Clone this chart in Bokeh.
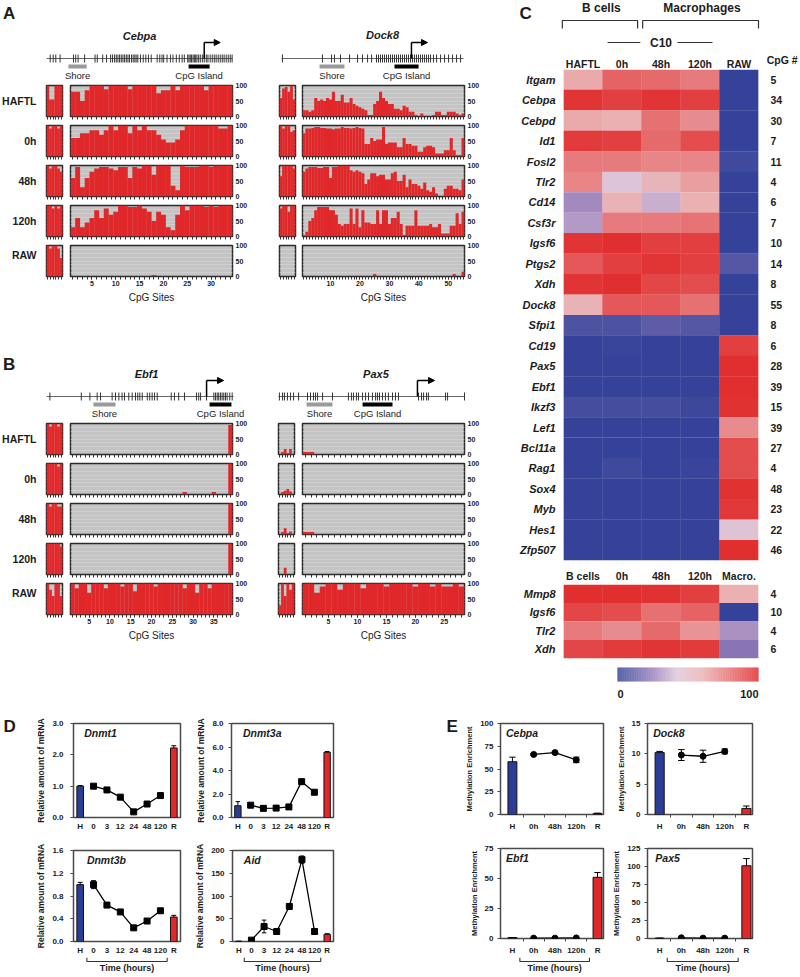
import numpy as np
from bokeh.plotting import figure
from bokeh.layouts import row, column
from bokeh.models import (Range1d, FixedTicker, LinearAxis, Spacer, LinearColorMapper,
                          Grid, Arrow, NormalHead, ColumnDataSource, NumeralTickFormatter)
from bokeh.core.properties import value
from bokeh.transform import transform
from bokeh.embed import file_html
from bokeh.resources import INLINE

FONT = "Liberation Sans"
RED = "#E0282A"
BLUE = "#2C3D96"
GRAY_BG = "#C4C4C4"
INK = "#1c1c1c"

# ---------------- Panel A / B : bisulfite methylation (% per CpG) ----------------
CONDITIONS = ["HAFTL", "0h", "48h", "120h", "RAW"]

CEBPA_SHORE = [
    [100, 55, 55, 100, 100, 100],
    [100, 90, 100, 100, 90, 100],
    [100, 90, 100, 100, 90, 80],
    [100, 100, 90, 100, 90, 100],
    [100, 90, 100, 100, 90, 60],
]
CEBPA_SITES = [
    [80, 80, 50, 85, 100, 100, 100, 88, 100, 100, 100, 100, 88, 100, 100, 100, 100, 100, 75, 85,
     85, 100, 85, 100, 100, 100, 100, 100, 85, 100, 100, 100, 100, 100],
    [60, 60, 75, 75, 85, 85, 70, 85, 100, 85, 100, 100, 75, 100, 85, 100, 85, 85, 70, 55,
     45, 45, 55, 85, 100, 100, 100, 100, 100, 100, 100, 90, 90, 100],
    [60, 95, 30, 60, 80, 90, 95, 95, 90, 85, 95, 95, 60, 95, 90, 100, 100, 70, 100, 100,
     100, 35, 20, 100, 95, 95, 95, 100, 100, 95, 100, 100, 100, 100],
    [30, 60, 30, 45, 60, 85, 60, 90, 70, 80, 100, 100, 95, 95, 100, 90, 80, 50, 80, 70,
     30, 20, 70, 100, 85, 100, 100, 100, 95, 100, 95, 100, 100, 100],
    [0, 0, 0, 0, 0, 0, 0, 0, 0, 0, 0, 0, 0, 0, 0, 0, 0, 5, 0, 0,
     0, 0, 0, 0, 0, 0, 0, 0, 0, 0, 0, 0, 0, 0],
]
CEBPA_TICKS = [5, 10, 15, 20, 25, 30]

DOCK8_SHORE = [
    [60, 90, 95, 80, 100, 55],
    [100, 90, 100, 100, 80, 85],
    [65, 100, 100, 100, 100, 90],
    [90, 100, 100, 80, 100, 100],
    [0, 0, 0, 0, 0, 0],
]
DOCK8_SITES = [
    [20, 20, 15, 20, 60, 50, 55, 50, 60, 55, 80, 50, 50, 70, 45, 45, 60, 40, 35, 30,
     25, 20, 5, 5, 40, 50, 80, 60, 50, 40, 40, 25, 25, 20, 35, 30, 15, 15, 5, 0,
     10, 0, 0, 0, 5, 15, 15, 5, 5, 15, 15, 15, 10, 5, 10],
    [75, 90, 90, 92, 95, 95, 92, 92, 90, 90, 88, 90, 90, 95, 92, 92, 90, 92, 95, 92,
     90, 40, 40, 60, 50, 55, 55, 95, 40, 45, 45, 45, 30, 30, 60, 40, 40, 35, 35, 15,
     15, 30, 35, 35, 30, 10, 10, 10, 20, 20, 60, 20, 5, 5, 60],
    [80, 90, 95, 95, 95, 92, 92, 95, 95, 60, 95, 95, 100, 100, 100, 100, 85, 80, 85, 80,
     75, 40, 55, 75, 75, 65, 70, 70, 55, 55, 75, 80, 50, 50, 70, 30, 55, 40, 40, 35,
     25, 45, 20, 15, 30, 10, 0, 0, 25, 35, 35, 25, 25, 20, 55],
    [5, 15, 50, 60, 85, 95, 95, 95, 95, 85, 85, 70, 40, 35, 40, 40, 90, 40, 90, 30,
     85, 45, 45, 40, 40, 85, 40, 85, 85, 40, 60, 60, 80, 40, 5, 35, 35, 35, 85, 35,
     35, 35, 35, 40, 30, 30, 40, 10, 10, 10, 35, 35, 75, 40, 80],
    [0, 0, 0, 0, 0, 0, 0, 0, 0, 0, 0, 0, 0, 0, 0, 0, 0, 0, 0, 0,
     0, 0, 0, 0, 8, 0, 0, 0, 0, 0, 0, 0, 0, 0, 0, 0, 0, 0, 0, 0,
     0, 0, 0, 0, 0, 0, 0, 0, 0, 0, 0, 8, 0, 0, 15],
]
DOCK8_TICKS = [10, 20, 30, 40, 50]

EBF1_SHORE = [
    [100, 90, 100, 100, 90, 100],
    [100, 100, 100, 100, 90, 100],
    [100, 90, 100, 100, 90, 90],
    [100, 100, 100, 100, 100, 90],
    [100, 80, 60, 100, 100, 60],
]
EBF1_SITES = [
    [0, 0, 0, 0, 0, 0, 0, 0, 0, 0, 0, 0, 0, 0, 0, 0, 0, 0, 0, 0,
     0, 0, 0, 0, 0, 0, 0, 0, 0, 0, 0, 0, 0, 0, 0, 0, 0, 0, 95],
    [0, 0, 0, 0, 0, 0, 0, 0, 0, 0, 0, 0, 0, 0, 0, 0, 0, 0, 0, 0,
     0, 0, 0, 0, 0, 0, 0, 8, 0, 0, 0, 0, 0, 0, 8, 0, 0, 0, 100],
    [0, 0, 0, 0, 0, 0, 0, 0, 0, 0, 0, 0, 0, 0, 0, 0, 0, 0, 0, 0,
     0, 0, 0, 0, 0, 0, 0, 0, 0, 0, 0, 0, 0, 0, 0, 0, 0, 0, 100],
    [0, 0, 0, 0, 0, 0, 0, 0, 0, 0, 0, 0, 0, 0, 0, 0, 0, 0, 0, 0,
     0, 0, 0, 0, 0, 0, 0, 0, 0, 0, 0, 0, 0, 0, 0, 0, 0, 0, 100],
    [100, 85, 100, 100, 70, 100, 100, 100, 85, 100, 100, 100, 90, 100, 100, 75, 100, 100, 100, 100,
     90, 100, 100, 100, 100, 100, 100, 85, 100, 100, 70, 100, 100, 85, 100, 100, 100, 100, 100],
]
EBF1_TICKS = [5, 10, 15, 20, 25, 30, 35]

PAX5_SHORE = [
    [0, 8, 18, 5, 18, 0],
    [0, 8, 12, 18, 10, 0],
    [0, 8, 20, 5, 10, 0],
    [0, 0, 22, 0, 0, 0],
    [30, 100, 60, 100, 80, 100],
]
PAX5_SITES = [
    [8, 8, 0, 0, 0, 0, 0, 0, 0, 0, 0, 0, 0, 0, 0, 0, 0, 0, 0, 0, 0, 0, 0, 0, 0, 0, 0, 0],
    [0, 0, 0, 0, 0, 0, 0, 0, 0, 0, 0, 0, 0, 0, 0, 0, 0, 0, 0, 0, 0, 0, 0, 0, 0, 0, 0, 0],
    [8, 8, 0, 0, 0, 0, 0, 0, 0, 0, 0, 0, 0, 0, 0, 0, 0, 0, 0, 0, 0, 0, 0, 0, 0, 0, 0, 0],
    [0, 0, 0, 0, 0, 0, 0, 0, 0, 0, 0, 0, 0, 0, 0, 0, 0, 0, 0, 0, 0, 0, 0, 0, 0, 0, 0, 0],
    [100, 100, 70, 90, 100, 100, 80, 100, 100, 100, 85, 100, 100, 100, 90, 100, 100, 100, 100, 90,
     100, 100, 90, 100, 90, 90, 100, 90],
]
PAX5_TICKS = [5, 10, 15, 20, 25]

# gene diagrams: CpG positions on a 0..1000 relative genomic scale
CEBPA_CPG = [20, 36, 50, 73, 145, 157, 170, 205, 261, 273, 302, 323, 345, 355, 366, 375, 384, 393,
             402, 411, 420, 429, 438, 446, 457, 466, 475, 482, 491, 505, 520, 534, 548, 563, 595,
             609, 621, 630, 648, 666, 680, 698, 714, 729, 741, 759, 766, 773, 780, 788, 795, 802,
             809, 818, 827, 838, 848, 859, 868, 880, 891, 902, 912, 923, 934, 945, 955, 966, 977,
             988, 998]
CEBPA_SHORE_SPAN = [118, 216]
CEBPA_ISLAND_SPAN = [764, 877]
CEBPA_TSS = [848, 934]

DOCK8_CPG = [5, 225, 275, 291, 324, 374, 418, 445, 473, 495, 522, 533, 544, 555, 566, 577, 588,
             599, 610, 621, 632, 643, 654, 665, 676, 687, 698, 709, 720, 731, 742, 753, 764, 775,
             786, 797, 808, 819, 835, 852, 874, 896, 918, 940, 962, 984]
DOCK8_SHORE_SPAN = [209, 346]
DOCK8_ISLAND_SPAN = [621, 753]
DOCK8_TSS = [714, 802]

EBF1_CPG = [18, 186, 232, 271, 289, 351, 369, 387, 404, 417, 440, 458, 476, 488, 499, 512, 539,
            552, 565, 578, 592, 667, 684, 707, 738, 802, 814, 824, 856, 895, 904, 913, 921, 930,
            939, 948, 957, 966, 980, 993]
EBF1_SHORE_SPAN = [251, 369]
EBF1_ISLAND_SPAN = [872, 989]
EBF1_TSS = [856, 947]

PAX5_CPG = [5, 22, 32, 48, 65, 81, 108, 156, 172, 188, 199, 210, 237, 290, 376, 392, 403, 419,
            430, 452, 468, 484, 505, 522, 532, 543, 559, 575, 591, 613, 629, 645, 753, 769, 780,
            796, 806, 898, 909, 1000]
PAX5_SHORE_SPAN = [151, 290]
PAX5_ISLAND_SPAN = [452, 613]
PAX5_TSS = [747, 839]

# ---------------- Panel C : heatmaps ----------------
HM_COLUMNS = ["HAFTL", "0h", "48h", "120h", "RAW"]
HM_GENES = ["Itgam", "Cebpa", "Cebpd", "Id1", "Fosl2", "Tlr2", "Cd14", "Csf3r", "Igsf6", "Ptgs2",
            "Xdh", "Dock8", "Sfpi1", "Cd19", "Pax5", "Ebf1", "Ikzf3", "Lef1", "Bcl11a", "Rag1",
            "Sox4", "Myb", "Hes1", "Zfp507"]
HM_VALUES = [
    [62, 82, 80, 75, 2], [95, 92, 95, 92, 2], [62, 60, 78, 70, 2], [93, 92, 80, 88, 2],
    [75, 75, 72, 72, 5], [72, 42, 56, 65, 2], [28, 58, 37, 60, 2], [32, 75, 75, 77, 2],
    [95, 97, 92, 92, 2], [85, 92, 95, 92, 10], [95, 97, 90, 88, 2], [58, 85, 85, 78, 2],
    [8, 8, 12, 10, 2], [2, 3, 2, 2, 92], [2, 2, 2, 2, 97], [2, 2, 2, 2, 97],
    [6, 6, 6, 4, 96], [2, 2, 2, 2, 70], [2, 2, 2, 2, 88], [2, 5, 2, 3, 88],
    [2, 2, 2, 2, 96], [2, 2, 2, 2, 94], [2, 2, 2, 2, 44], [2, 2, 2, 2, 97],
]
HM_CPG = [5, 34, 30, 7, 11, 4, 6, 7, 10, 14, 8, 55, 8, 6, 28, 39, 15, 39, 27, 4, 48, 23, 22, 46]

HM2_COLUMNS = ["B cells", "0h", "48h", "120h", "Macro."]
HM2_GENES = ["Mmp8", "Igsf6", "Tlr2", "Xdh"]
HM2_VALUES = [[97, 97, 96, 92, 60], [90, 88, 78, 82, 2], [75, 70, 80, 68, 30], [90, 93, 95, 93, 22]]
HM2_CPG = [4, 10, 4, 6]

# ---------------- Panel D : qPCR ----------------
D_XLABELS = ["H", "0", "3", "12", "24", "48", "120", "R"]
DNMT1_H, DNMT1_H_ERR = 1.0, 0.02
DNMT1_T = [1.0, 0.88, 0.65, 0.18, 0.43, 0.70]
DNMT1_T_ERR = [0.04, 0.03, 0.03, 0.02, 0.03, 0.04]
DNMT1_R, DNMT1_R_ERR = 2.22, 0.07
DNMT3A_H, DNMT3A_H_ERR = 1.0, 0.35
DNMT3A_T = [1.05, 0.78, 0.80, 0.90, 3.05, 2.15]
DNMT3A_T_ERR = [0.05, 0.05, 0.05, 0.08, 0.08, 0.10]
DNMT3A_R, DNMT3A_R_ERR = 5.55, 0.07
DNMT3B_H, DNMT3B_H_ERR = 1.0, 0.04
DNMT3B_T = [1.0, 0.64, 0.52, 0.24, 0.36, 0.54]
DNMT3B_T_ERR = [0.07, 0.02, 0.02, 0.01, 0.02, 0.02]
DNMT3B_R, DNMT3B_R_ERR = 0.43, 0.03
AID_H, AID_H_ERR = 0.5, 0.0
AID_T = [3, 33, 22, 77, 180, 22]
AID_T_ERR = [1, 14, 2, 5, 8, 2]
AID_R, AID_R_ERR = 16, 1

# ---------------- Panel E : MeDIP ----------------
E_XLABELS = ["H", "0h", "48h", "120h", "R"]
E_CEBPA_H, E_CEBPA_H_ERR = 58, 5
E_CEBPA_T, E_CEBPA_T_ERR = [66, 68, 60], [1, 1, 3]
E_CEBPA_R, E_CEBPA_R_ERR = 1, 0.5
E_DOCK8_H, E_DOCK8_H_ERR = 10.2, 0.2
E_DOCK8_T, E_DOCK8_T_ERR = [9.8, 9.6, 10.4], [0.9, 1.0, 0.4]
E_DOCK8_R, E_DOCK8_R_ERR = 1.0, 0.4
E_EBF1_H, E_EBF1_H_ERR = 0.8, 0.0
E_EBF1_T, E_EBF1_T_ERR = [0.3, 0.3, 0.5], [0.3, 0.2, 0.3]
E_EBF1_R, E_EBF1_R_ERR = 51, 4
E_PAX5_H, E_PAX5_H_ERR = 0.5, 0.0
E_PAX5_T, E_PAX5_T_ERR = [1.0, 0.5, 0.5], [0.3, 0.2, 0.2]
E_PAX5_R, E_PAX5_R_ERR = 101, 10


# ================= helpers =================
def base(w, h, l=0, r=0, t=0, b=0, xr=None, yr=None):
    p = figure(width=w, height=h, x_range=xr, y_range=yr,
               x_axis_location=None, y_axis_location=None,
               min_border_left=l, min_border_right=r, min_border_top=t, min_border_bottom=b,
               output_backend="svg", toolbar_location=None, tools="")
    p.grid.grid_line_color = None
    p.outline_line_color = None
    p.background_fill_color = "white"
    p.border_fill_color = "white"
    return p


def txt(p, x, y, s, size="9px", style="normal", align="center", baseline="middle", color=INK):
    p.text(x=[x], y=[y], text=[s], text_font=value(FONT), text_font_size=size,
           text_font_style=style, text_align=align, text_baseline=baseline, text_color=color)


def style_axis(ax, size="8px", style="bold"):
    ax.major_label_text_font = FONT
    ax.major_label_text_font_size = size
    ax.major_label_text_font_style = style
    ax.major_label_text_color = INK
    ax.axis_label_text_font = FONT
    ax.axis_label_text_color = INK


def meth_box(vals, w, h, l, r, b, right_axis, label_ticks=None, axis_label=None):
    n = len(vals)
    sites = list(range(1, n + 1))
    p = base(w, h, l, r, 4, b, xr=Range1d(0.5, n + 0.5), yr=Range1d(0, 100))
    p.background_fill_color = GRAY_BG
    p.outline_line_color = "#2b2b2b"
    p.outline_line_width = 1.5
    p.add_layout(Grid(dimension=1, ticker=FixedTicker(ticks=[12.5, 25, 37.5, 50, 62.5, 75, 87.5]),
                      grid_line_color="#d4d4d4", grid_line_width=0.7))
    p.vbar(x=sites, top=vals, bottom=0, width=1.04, fill_color=RED, line_color=None)
    xa = LinearAxis(ticker=FixedTicker(ticks=label_ticks or [], minor_ticks=sites))
    style_axis(xa, "7px")
    xa.axis_line_color = None
    xa.major_tick_in = 0
    xa.major_tick_out = 3
    xa.minor_tick_in = 0
    xa.minor_tick_out = 3
    xa.major_tick_line_color = "#333"
    xa.minor_tick_line_color = "#333"
    xa.major_label_standoff = 1
    if axis_label:
        xa.axis_label = axis_label
        xa.axis_label_text_font_size = "10px"
        xa.axis_label_text_font_style = "normal"
        xa.axis_label_standoff = 3
    p.add_layout(xa, "below")
    if right_axis:
        ya = LinearAxis(ticker=FixedTicker(ticks=[0, 50, 100]))
        style_axis(ya, "7px")
        ya.axis_line_color = None
        ya.major_tick_out = 0
        ya.major_tick_in = 0
        ya.major_label_standoff = 3
        p.add_layout(ya, "right")
    return p


def gene_header(w, h, origin, L0, L1, line_y, cpg, shore, island, tss, title, title_u, title_y,
                letter=None, letter_y=0):
    s = (L1 - L0) / 1000.0
    xr = Range1d(-(L0 - origin) / s, 1000 + (origin + w - L1) / s)
    p = base(w, h, xr=xr, yr=Range1d(h, 0))
    p.segment(x0=[0], y0=[line_y], x1=[1000], y1=[line_y], line_color="#666", line_width=1)
    p.segment(x0=cpg, y0=[line_y - 4] * len(cpg), x1=cpg, y1=[line_y + 4] * len(cpg),
              line_color="#333", line_width=1)
    p.segment(x0=[shore[0]], y0=[line_y + 8], x1=[shore[1]], y1=[line_y + 8],
              line_color="#9a9a9a", line_width=4)
    p.segment(x0=[island[0]], y0=[line_y + 8], x1=[island[1]], y1=[line_y + 8],
              line_color="black", line_width=4)
    p.segment(x0=[tss[0]], y0=[line_y], x1=[tss[0]], y1=[line_y - 16], line_color="black", line_width=1.5)
    p.add_layout(Arrow(end=NormalHead(size=6, fill_color="black", line_color="black"),
                       x_start=tss[0], y_start=line_y - 16, x_end=tss[1], y_end=line_y - 16,
                       line_color="black", line_width=1.5))
    txt(p, (shore[0] + shore[1]) / 2, line_y + 17, "Shore", "9.5px")
    txt(p, (island[0] + island[1]) / 2, line_y + 17, "CpG Island", "9.5px")
    txt(p, title_u, title_y, title, "11px", "bold italic")
    if letter:
        txt(p, xr.start + 2.5 / s, letter_y, letter, "17px", "bold", "left", "top")
    return p


LABEL_W = 45


def label_fig(s, h):
    p = base(LABEL_W, h, xr=Range1d(0, LABEL_W), yr=Range1d(h, 0))
    txt(p, 36, 19.5, s, "10.5px", "bold", "right")
    return p


def meth_rows(left_shore, left_sites, left_ticks, right_shore, right_sites, right_ticks, right_small_l):
    rows = []
    for i, cond in enumerate(CONDITIONS):
        last = i == len(CONDITIONS) - 1
        h = 65 if last else 40
        b = 30 if last else 5
        rows.append(row(
            label_fig(cond, h),
            meth_box(left_shore[i], 21, h, 1, 4, b, False),
            meth_box(left_sites[i], 184, h, 4, 17, b, True,
                     left_ticks if last else None, "CpG Sites" if last else None),
            meth_box(right_shore[i], 48, h, right_small_l, 32 - right_small_l, b, False),
            meth_box(right_sites[i], 192, h, 4, 26, b, True,
                     right_ticks if last else None, "CpG Sites" if last else None),
        ))
    return rows


# ================= Panels A & B =================
hA1 = gene_header(250, 81, 0, 46, 232, 58, CEBPA_CPG, CEBPA_SHORE_SPAN, CEBPA_ISLAND_SPAN, CEBPA_TSS,
                  "Cebpa", 500, 35, "A", 3)
hA2 = gene_header(240, 81, 250, 281, 463, 58, DOCK8_CPG, DOCK8_SHORE_SPAN, DOCK8_ISLAND_SPAN, DOCK8_TSS,
                  "Dock8", 555, 34)
rowsA = meth_rows(CEBPA_SHORE, CEBPA_SITES, CEBPA_TICKS, DOCK8_SHORE, DOCK8_SITES, DOCK8_TICKS, 29)
hB1 = gene_header(250, 113, 0, 46, 233, 90, EBF1_CPG, EBF1_SHORE_SPAN, EBF1_ISLAND_SPAN, EBF1_TSS,
                  "Ebf1", 535, 67, "B", 48)
hB2 = gene_header(240, 113, 250, 278, 464, 90, PAX5_CPG, PAX5_SHORE_SPAN, PAX5_ISLAND_SPAN, PAX5_TSS,
                  "Pax5", 524, 67)
rowsB = meth_rows(EBF1_SHORE, EBF1_SITES, EBF1_TICKS, PAX5_SHORE, PAX5_SITES, PAX5_TICKS, 28)

left_col = column(row(hA1, hA2), *rowsA, row(hB1, hB2), *rowsB, Spacer(width=490, height=56))

# ================= Panel C =================
def interp_palette(stops, n=256):
    out = []
    for i in range(n):
        t = i / (n - 1)
        for (t0, c0), (t1, c1) in zip(stops[:-1], stops[1:]):
            if t0 <= t <= t1:
                f = (t - t0) / (t1 - t0)
                c = [int(round(a + (bb - a) * f)) for a, bb in zip(c0, c1)]
                out.append("#%02x%02x%02x" % tuple(c))
                break
    return out


PALETTE = interp_palette([(0.0, (44, 62, 150)), (0.25, (150, 125, 185)), (0.42, (222, 196, 216)),
                          (0.6, (234, 176, 178)), (1.0, (224, 36, 36))])
mapper = LinearColorMapper(palette=PALETTE, low=0, high=100)

HM_L, HM_R, HM_W = 73, 41, 309
col_px = (HM_W - HM_L - HM_R) / 5.0
LETC_W = 70
HC_W = HM_W - LETC_W
cx0 = -0.5 - (HM_L - LETC_W) / col_px
cx1 = 4.5 + HM_R / col_px

letC = base(LETC_W, 69, xr=Range1d(0, LETC_W), yr=Range1d(69, 0))
txt(letC, 29, 3, "C", "17px", "bold", "left", "top")

hc = base(HC_W, 69, xr=Range1d(cx0, cx1), yr=Range1d(69, 0))
txt(hc, 0.47, 7, "B cells", "12px", "bold")
txt(hc, 3.05, 7, "Macrophages", "12px", "bold")
hc.line(x=[-0.53, -0.53, 1.4, 1.4], y=[28, 20, 20, 28], line_color="#333", line_width=1.2)
hc.line(x=[1.53, 1.53, 4.5, 4.5], y=[28, 20, 20, 28], line_color="#333", line_width=1.2)
txt(hc, 2.0, 42, "C10", "12px", "bold")
hc.segment(x0=[0.63, 2.42], y0=[42, 42], x1=[1.47, 3.32], y1=[42, 42], line_color="#333", line_width=1.2)
for i, lab in enumerate(HM_COLUMNS):
    txt(hc, i, 63, lab, "10.5px", "bold")
txt(hc, cx1 - 0.05, 59, "CpG #", "10.5px", "bold", "right")


def heatmap(genes, cols, vals, cpg, h, t, top_axis):
    nr = len(genes)
    p = base(HM_W, h, HM_L, HM_R, t, 2, xr=Range1d(-0.5, 4.5), yr=Range1d(nr - 0.5, -0.5))
    xs, ys, vs = [], [], []
    for r_i, rowvals in enumerate(vals):
        for c_i, v in enumerate(rowvals):
            xs.append(c_i)
            ys.append(r_i)
            vs.append(v)
    src = ColumnDataSource(dict(x=xs, y=ys, v=vs))
    p.rect(x="x", y="y", width=1.01, height=1.01, source=src,
           fill_color=transform("v", mapper), line_color=None)
    la = LinearAxis(ticker=FixedTicker(ticks=list(range(nr))),
                    major_label_overrides={i: g for i, g in enumerate(genes)})
    style_axis(la, "11px", "bold italic")
    la.axis_line_color = None
    la.major_tick_out = 0
    la.major_tick_in = 0
    la.major_label_standoff = 8
    p.add_layout(la, "left")
    ra = LinearAxis(ticker=FixedTicker(ticks=list(range(nr))),
                    major_label_overrides={i: str(c) for i, c in enumerate(cpg)})
    style_axis(ra, "10.5px", "bold")
    ra.axis_line_color = None
    ra.major_tick_out = 0
    ra.major_tick_in = 0
    ra.major_label_standoff = 12
    p.add_layout(ra, "right")
    if top_axis:
        ta = LinearAxis(ticker=FixedTicker(ticks=list(range(len(cols)))),
                        major_label_overrides={i: c for i, c in enumerate(cols)})
        style_axis(ta, "10.5px", "bold")
        ta.axis_line_color = None
        ta.major_tick_out = 0
        ta.major_tick_in = 0
        ta.major_label_standoff = 3
        p.add_layout(ta, "above")
    return p


hm1 = heatmap(HM_GENES, HM_COLUMNS, HM_VALUES, HM_CPG, 493, 0, False)
hm2 = heatmap(HM2_GENES, HM2_COLUMNS, HM2_VALUES, HM2_CPG, 98, 22, True)

cb_scale = 141 / 100.0
cbf = base(HM_W, 40, xr=Range1d(-127 / cb_scale, 100 + (HM_W - 268) / cb_scale), yr=Range1d(40, 0))
cb_levels = np.linspace(0.25, 99.75, 200)
cbf.rect(x="x", y=14, width=0.52, height=14,
         source=ColumnDataSource(dict(x=cb_levels, v=cb_levels)),
         fill_color=transform("v", mapper), line_color=None)
txt(cbf, 0, 33, "0", "11px", "bold", "left")
txt(cbf, 100, 33, "100", "11px", "bold", "right")

right_col = column(row(letC, hc), row(hm1), row(hm2), row(cbf))


# ================= Panels D & E =================
def expr_plot(w, h, l, r, t, b, xr, ymax, yticks, fmt, title, title_x, xlabels,
              hval, herr, tvals, terr, rval, rerr, marker, bar_w, cap, ylabel, ylab_size,
              lab_standoff, minor=None):
    n = len(xlabels)
    p = base(w, h, l, r, t, b, xr=Range1d(*xr), yr=Range1d(0, ymax))
    p.outline_line_color = "#4a4a4a"
    p.outline_line_width = 1.5
    xs = list(range(1, n - 1))
    p.vbar(x=[0], top=[hval], width=bar_w, fill_color=BLUE, line_color="#111", line_width=1)
    p.vbar(x=[n - 1], top=[rval], width=bar_w, fill_color=RED, line_color="#111", line_width=1)
    bx = [0, n - 1]
    btop = [hval + herr, rval + rerr]
    p.segment(x0=bx, y0=[hval, rval], x1=bx, y1=btop, line_color="black", line_width=1)
    p.segment(x0=[x - cap for x in bx], y0=btop, x1=[x + cap for x in bx], y1=btop,
              line_color="black", line_width=1)
    lo = [v - e for v, e in zip(tvals, terr)]
    hi = [v + e for v, e in zip(tvals, terr)]
    p.segment(x0=xs, y0=lo, x1=xs, y1=hi, line_color="black", line_width=1)
    p.segment(x0=[x - cap for x in xs], y0=lo, x1=[x + cap for x in xs], y1=lo, line_color="black", line_width=1)
    p.segment(x0=[x - cap for x in xs], y0=hi, x1=[x + cap for x in xs], y1=hi, line_color="black", line_width=1)
    p.line(x=xs, y=tvals, line_color="black", line_width=1.3)
    p.scatter(x=xs, y=tvals, marker=marker, size=6, color="black")
    ya = LinearAxis(ticker=FixedTicker(ticks=yticks), formatter=NumeralTickFormatter(format=fmt),
                    axis_label=ylabel)
    style_axis(ya, "8px")
    ya.axis_line_color = None
    ya.major_tick_out = 3
    ya.major_tick_in = 0
    ya.major_tick_line_color = "#4a4a4a"
    ya.major_label_standoff = lab_standoff
    ya.axis_label_text_font_size = ylab_size
    ya.axis_label_text_font_style = "bold"
    ya.axis_label_standoff = 3
    p.add_layout(ya, "left")
    xa = LinearAxis(ticker=FixedTicker(ticks=list(range(n)), minor_ticks=minor or []),
                    major_label_overrides={i: s for i, s in enumerate(xlabels)})
    style_axis(xa, "8px")
    xa.axis_line_color = None
    xa.major_tick_out = 0
    xa.major_tick_in = 0
    xa.minor_tick_out = 3
    xa.minor_tick_in = 0
    xa.minor_tick_line_color = "#4a4a4a"
    xa.major_label_standoff = 4
    p.add_layout(xa, "below")
    txt(p, title_x, ymax * 0.895, title, "10.5px", "bold italic", "left")
    return p


def bracket_fig(w, l, r, xr, a, bnd):
    p = base(w, 18, l, r, 0, 0, xr=Range1d(*xr), yr=Range1d(18, 0))
    p.line(x=[a, a, bnd, bnd], y=[0, 4, 4, 0], line_color="#333", line_width=1.1)
    txt(p, (a + bnd) / 2, 5.5, "Time (hours)", "9px", "bold", "center", "top")
    return p


DXR = (-0.5, 7.5)
YL_D = "Relative amount of mRNA"
dn1 = expr_plot(170, 135, 51, 12, 23, 18, DXR, 3.0, [0, 1, 2, 3], "0.0", "Dnmt1", 0.3, D_XLABELS,
                DNMT1_H, DNMT1_H_ERR, DNMT1_T, DNMT1_T_ERR, DNMT1_R, DNMT1_R_ERR,
                "square", 0.5, 0.18, YL_D, "8.5px", 7)
dn3a = expr_plot(208, 135, 39, 67, 23, 18, DXR, 8.0, [0, 2, 4, 6, 8], "0.0", "Dnmt3a", 0.4, D_XLABELS,
                 DNMT3A_H, DNMT3A_H_ERR, DNMT3A_T, DNMT3A_T_ERR, DNMT3A_R, DNMT3A_R_ERR,
                 "square", 0.5, 0.18, YL_D, "8.5px", 5)
dn3b = expr_plot(170, 122, 51, 12, 15, 14, DXR, 1.6, [0, 0.4, 0.8, 1.2, 1.6], "0.0", "Dnmt3b", 0.5,
                 D_XLABELS, DNMT3B_H, DNMT3B_H_ERR, DNMT3B_T, DNMT3B_T_ERR, DNMT3B_R, DNMT3B_R_ERR,
                 "square", 0.5, 0.18, YL_D, "8.5px", 7)
aid = expr_plot(208, 122, 39, 67, 15, 14, DXR, 200, [0, 50, 100, 150, 200], "0", "Aid", 0.4, D_XLABELS,
                AID_H, AID_H_ERR, AID_T, AID_T_ERR, AID_R, AID_R_ERR,
                "square", 0.5, 0.18, YL_D, "8.5px", 5)
brD1 = bracket_fig(170, 51, 12, DXR, 0.5, 6.5)
brD2 = bracket_fig(208, 39, 67, DXR, 0.5, 6.5)

EXR = (-0.56, 4.28)
YL_E = "Methylation Enrichment"
EMIN = [0.5, 1.5, 2.5, 3.5]
ec = expr_plot(146, 135, 38, 5, 23, 21, EXR, 100, [0, 25, 50, 75, 100], "0", "Cebpa", -0.3, E_XLABELS,
               E_CEBPA_H, E_CEBPA_H_ERR, E_CEBPA_T, E_CEBPA_T_ERR, E_CEBPA_R, E_CEBPA_R_ERR,
               "circle", 0.42, 0.15, YL_E, "7.5px", 4, EMIN)
ed = expr_plot(184, 135, 39, 40, 23, 21, EXR, 15, [0, 5, 10, 15], "0", "Dock8", -0.3, E_XLABELS,
               E_DOCK8_H, E_DOCK8_H_ERR, E_DOCK8_T, E_DOCK8_T_ERR, E_DOCK8_R, E_DOCK8_R_ERR,
               "circle", 0.42, 0.15, YL_E, "7.5px", 4, EMIN)
ee = expr_plot(146, 122, 38, 5, 13, 17, EXR, 75, [0, 25, 50, 75], "0", "Ebf1", -0.3, E_XLABELS,
               E_EBF1_H, E_EBF1_H_ERR, E_EBF1_T, E_EBF1_T_ERR, E_EBF1_R, E_EBF1_R_ERR,
               "circle", 0.42, 0.15, YL_E, "7.5px", 4, EMIN)
ep = expr_plot(184, 122, 39, 40, 13, 17, EXR, 125, [0, 25, 50, 75, 100, 125], "0", "Pax5", -0.2, E_XLABELS,
               E_PAX5_H, E_PAX5_H_ERR, E_PAX5_T, E_PAX5_T_ERR, E_PAX5_R, E_PAX5_R_ERR,
               "circle", 0.42, 0.15, YL_E, "7.5px", 4, EMIN)
brE1 = bracket_fig(146, 38, 5, EXR, 0.35, 3.62)
brE2 = bracket_fig(184, 39, 40, EXR, 0.35, 3.62)

letD = base(22, 275, xr=Range1d(0, 22), yr=Range1d(275, 0))
txt(letD, 3, 16, "D", "17px", "bold", "left", "top")
letE = base(62, 275, xr=Range1d(0, 62), yr=Range1d(275, 0))
txt(letE, 46, 16, "E", "17px", "bold", "left", "top")

panelD = row(letD, column(row(dn1, dn3a), row(dn3b, aid), row(brD1, brD2)))
panelE = row(letE, column(row(ec, ed), row(ee, ep), row(brE1, brE2)))

layout = column(row(left_col, right_col), row(panelD, panelE))

open("out.html", "w").write(file_html(layout, INLINE))
